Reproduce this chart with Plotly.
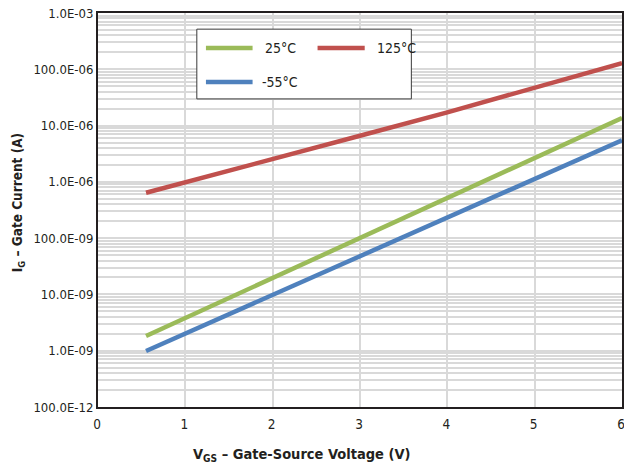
import plotly.graph_objects as go

# Data
vgs = [0.55, 1, 2, 3, 4, 5, 6]
ig_25C = [1.83e-9, 3.83e-9, 1.96e-8, 1.01e-7, 5.18e-7, 2.66e-6, 1.36e-5]
ig_125C = [6.4e-7, 9.9e-7, 2.58e-6, 6.6e-6, 1.72e-5, 4.7e-5, 1.28e-4]
ig_m55C = [9.9e-10, 2.02e-9, 9.8e-9, 4.8e-8, 2.34e-7, 1.14e-6, 5.5e-6]

series_names = ["25°C", "125°C", "-55°C"]
series_colors = ["#9BBB59", "#C0504D", "#4F81BD"]

y_tickvals = [1e-3, 1e-4, 1e-5, 1e-6, 1e-7, 1e-8, 1e-9, 1e-10]
y_ticktext = ["1.0E-03", "100.0E-06", "10.0E-06", "1.0E-06",
              "100.0E-09", "10.0E-09", "1.0E-09", "100.0E-12"]
x_tickvals = [0, 1, 2, 3, 4, 5, 6]

FONT = "DejaVu Sans Condensed, Liberation Sans Narrow, sans-serif"

fig = go.Figure()
for name, ys, col in zip(series_names, [ig_25C, ig_125C, ig_m55C], series_colors):
    fig.add_trace(go.Scatter(x=vgs, y=ys, mode="lines", name=name,
                             line=dict(color=col, width=4.5), showlegend=False))

fig.update_layout(
    width=624, height=472, autosize=False,
    margin=dict(l=98, r=2, t=13, b=65, autoexpand=False),
    paper_bgcolor="white", plot_bgcolor="white",
    font=dict(family=FONT, size=13, color="#231f20"),
)
fig.update_xaxes(
    range=[0, 6], tickvals=x_tickvals, ticks="",
    showgrid=True, gridcolor="#d9d9d9", gridwidth=1.5,
    showline=True, linecolor="#231f20", linewidth=2, mirror=True,
    zeroline=False, tickfont=dict(size=13.5), ticklabeloverflow="allow",
    ticklabelshift=-1, ticklabelstandoff=4,
)
fig.update_yaxes(
    type="log", range=[-10, -3], tickvals=y_tickvals, ticktext=y_ticktext,
    ticks="", showgrid=True, gridcolor="#d9d9d9", gridwidth=1.5,
    minor=dict(showgrid=True, gridcolor="#d9d9d9", gridwidth=1.5, dtick="D1", ticks=""),
    showline=True, linecolor="#231f20", linewidth=2, mirror=True,
    zeroline=False, tickfont=dict(size=13), ticklabeloverflow="allow",
)

# Axis titles
fig.add_annotation(text="<b>V<sub>GS</sub> – Gate-Source Voltage (V)</b>",
                   xref="paper", yref="paper", x=0.39, y=-0.095,
                   xanchor="center", yanchor="top", showarrow=False,
                   font=dict(size=14.5, family=FONT))
fig.add_annotation(text="<b>I<sub>G</sub> – Gate Current (A)</b>",
                   xref="paper", yref="paper", x=-0.152, y=0.518,
                   xanchor="center", yanchor="middle", showarrow=False,
                   textangle=-90, font=dict(size=13.5, family=FONT))

# Custom legend box
fig.add_shape(type="rect", xref="paper", yref="paper",
              x0=0.1886, x1=0.598, y0=0.782, y1=0.959,
              line=dict(color="#3a3a3a", width=1), fillcolor="white", layer="above")
legend_pos = [(0.206, 0.295, 0.911, 0.314), (0.419, 0.509, 0.911, 0.528),
              (0.206, 0.295, 0.825, 0.309)]
for name, col, (lx0, lx1, ly, tx) in zip(series_names, series_colors, legend_pos):
    fig.add_shape(type="line", xref="paper", yref="paper",
                  x0=lx0, x1=lx1, y0=ly, y1=ly,
                  line=dict(color=col, width=4.5), layer="above")
    fig.add_annotation(text=name, xref="paper", yref="paper", x=tx, y=ly,
                       xanchor="left", yanchor="middle", showarrow=False,
                       font=dict(size=14, family=FONT))

fig.write_html("out.html", config={"displayModeBar": False},
               post_script="document.body.style.margin='0';")
